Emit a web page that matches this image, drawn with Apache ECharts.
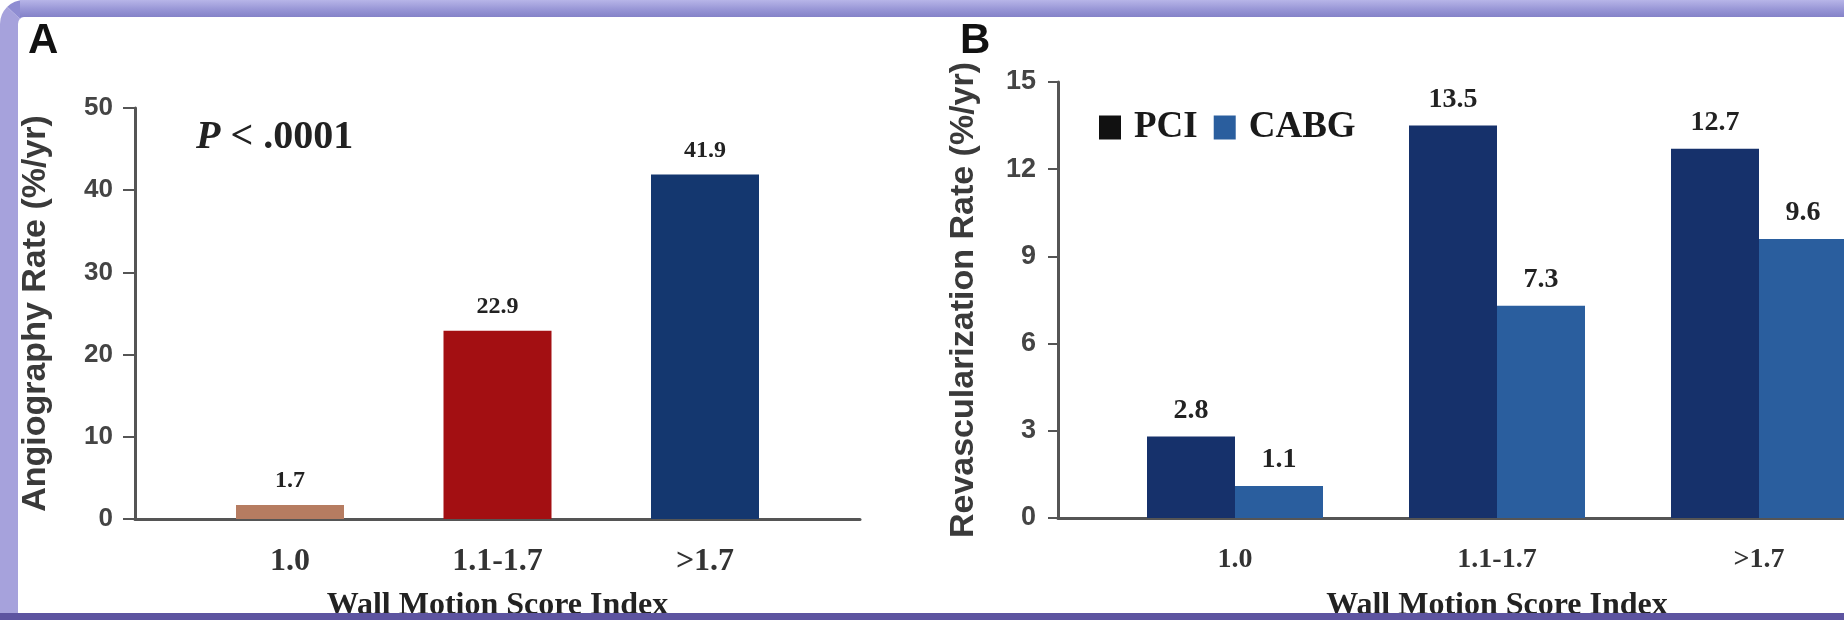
<!DOCTYPE html>
<html>
<head>
<meta charset="utf-8">
<script src="https://cdn.jsdelivr.net/npm/echarts@6/dist/echarts.min.js"></script>
<style>
  html, body { margin: 0; padding: 0; background: #ffffff; overflow: hidden; }
  #chart { position: absolute; left: 0; top: 0; width: 1844px; height: 620px; }
  .frame { position: absolute; pointer-events: none; }
  #frameTL { left: 0; top: 0; width: 1900px; height: 700px; box-sizing: border-box;
    border-left: 18px solid #a6a2dc; border-top: 17px solid #8f8dd2; border-top-left-radius: 24px; }
  #frameTop { left: 20px; top: 0; width: 1830px; height: 17px;
    background: linear-gradient(#b7b5e8, #9896d6 55%, #8482c8); }
  #frameBottom { left: 0; top: 613px; width: 1844px; height: 7px; background: #5d54a0; }
</style>
</head>
<body>
<div id="chart"></div>
<div class="frame" id="frameTL"></div>
<div class="frame" id="frameTop"></div>
<div class="frame" id="frameBottom"></div>
<script>
// ---- data ----
const categories = ['1.0', '1.1-1.7', '>1.7'];
const angioValues = [1.7, 22.9, 41.9];
const angioColors = ['#b67c61', '#a30f12', '#14376f'];
const seriesNames = ['PCI', 'CABG'];
const pciValues = [2.8, 13.5, 12.7];
const cabgValues = [1.1, 7.3, 9.6];
const angioTicks = [0, 10, 20, 30, 40, 50];
const revascTicks = [0, 3, 6, 9, 12, 15];

const SANS = "'Liberation Sans', Arial, sans-serif";
const SERIF = "'Liberation Serif', 'Times New Roman', serif";

const chart = echarts.init(document.getElementById('chart'), null, { renderer: 'canvas' });

function frameX(gridIndex) {
  return {
    gridIndex: gridIndex, type: 'value', min: 0, max: 1,
    axisLine: { show: true, onZero: false, lineStyle: { color: '#555', width: 3 } },
    axisTick: { show: false }, axisLabel: { show: false }, splitLine: { show: false }
  };
}
function barX(gridIndex, fontSize, margin, nameGap) {
  return {
    gridIndex: gridIndex, type: 'category', data: categories,
    axisLine: { show: false }, axisTick: { show: false }, splitLine: { show: false },
    axisLabel: { margin: margin, color: '#333', fontFamily: SERIF, fontWeight: 'bold', fontSize: fontSize },
    name: 'Wall Motion Score Index', nameLocation: 'middle', nameGap: nameGap,
    nameTextStyle: { color: '#222', fontFamily: SERIF, fontWeight: 'bold', fontSize: 32 }
  };
}
function frameY(gridIndex, ticks, name, nameGap, tickLen, fontSize) {
  return {
    gridIndex: gridIndex, type: 'value',
    min: ticks[0], max: ticks[ticks.length - 1], interval: ticks[1] - ticks[0],
    axisLine: { show: true, lineStyle: { color: '#555', width: 3 } },
    axisTick: { show: true, length: tickLen, lineStyle: { color: '#555', width: 2 } },
    axisLabel: { margin: 22, color: '#444', fontFamily: SANS, fontWeight: 'bold', fontSize: fontSize },
    splitLine: { show: false },
    name: name, nameLocation: 'middle', nameGap: nameGap,
    nameTextStyle: { color: '#3a3a3a', fontFamily: SANS, fontWeight: 'bold', fontSize: 34 }
  };
}
function hiddenY(gridIndex, ticks) {
  return { gridIndex: gridIndex, type: 'value', min: ticks[0], max: ticks[ticks.length - 1], show: false };
}
const valueLabel = (size, dist) => ({
  show: true, position: 'top', distance: dist, color: '#222',
  fontFamily: SERIF, fontWeight: 'bold', fontSize: size,
  formatter: p => p.value.toFixed(1)
});

chart.setOption({
  animation: false,
  backgroundColor: '#ffffff',
  grid: [
    { left: 135, top: 108, width: 725, height: 411, outerBoundsMode: 'none', containLabel: false },
    { left: 186.25, top: 108, width: 622.5, height: 411, outerBoundsMode: 'none', containLabel: false },
    { left: 1058, top: 82, width: 832, height: 436, outerBoundsMode: 'none', containLabel: false },
    { left: 1104, top: 82, width: 786, height: 436, outerBoundsMode: 'none', containLabel: false }
  ],
  xAxis: [frameX(0), barX(1, 32, 27, 71), frameX(2), barX(3, 28, 28, 72)],
  yAxis: [
    frameY(0, angioTicks, 'Angiography Rate (%/yr)', 82, 12, 26),
    hiddenY(1, angioTicks),
    frameY(2, revascTicks, 'Revascularization Rate (%/yr)', 77, 10, 27),
    hiddenY(3, revascTicks)
  ],
  legend: {
    left: 1094, top: 104, icon: 'rect', itemWidth: 22, itemHeight: 24, itemGap: 16,
    selectedMode: false,
    textStyle: { color: '#1a1a1a', fontFamily: SERIF, fontWeight: 'bold', fontSize: 37, padding: [0, 0, 0, 8] },
    data: [
      { name: seriesNames[0], itemStyle: { color: '#111111' } },
      { name: seriesNames[1], itemStyle: { color: '#2a5e9e' } }
    ]
  },
  graphic: [
    { type: 'text', left: 28, top: 20, style: { text: 'A', font: "bold 42px 'Liberation Sans', Arial, sans-serif", fill: '#111' } },
    { type: 'text', left: 960, top: 20, style: { text: 'B', font: "bold 42px 'Liberation Sans', Arial, sans-serif", fill: '#111' } },
    { type: 'text', left: 196, top: 118, style: {
        text: '{p|P}{t| < .0001}',
        rich: {
          p: { fontFamily: SERIF, fontStyle: 'italic', fontWeight: 'bold', fontSize: 40, fill: '#222' },
          t: { fontFamily: SERIF, fontWeight: 'bold', fontSize: 40, fill: '#222' }
        }
      } }
  ],
  series: [
    {
      type: 'bar', xAxisIndex: 1, yAxisIndex: 1, barWidth: 108,
      data: angioValues.map((v, i) => ({ value: v, itemStyle: { color: angioColors[i] } })),
      label: valueLabel(24, 12)
    },
    {
      name: seriesNames[0], type: 'bar', xAxisIndex: 3, yAxisIndex: 3, barWidth: 88, barGap: '0%',
      data: pciValues, itemStyle: { color: '#16316b' }, label: valueLabel(28, 12)
    },
    {
      name: seriesNames[1], type: 'bar', xAxisIndex: 3, yAxisIndex: 3, barWidth: 88, barGap: '0%',
      data: cabgValues, itemStyle: { color: '#2a5e9e' }, label: valueLabel(28, 12)
    }
  ]
});
</script>
</body>
</html>
